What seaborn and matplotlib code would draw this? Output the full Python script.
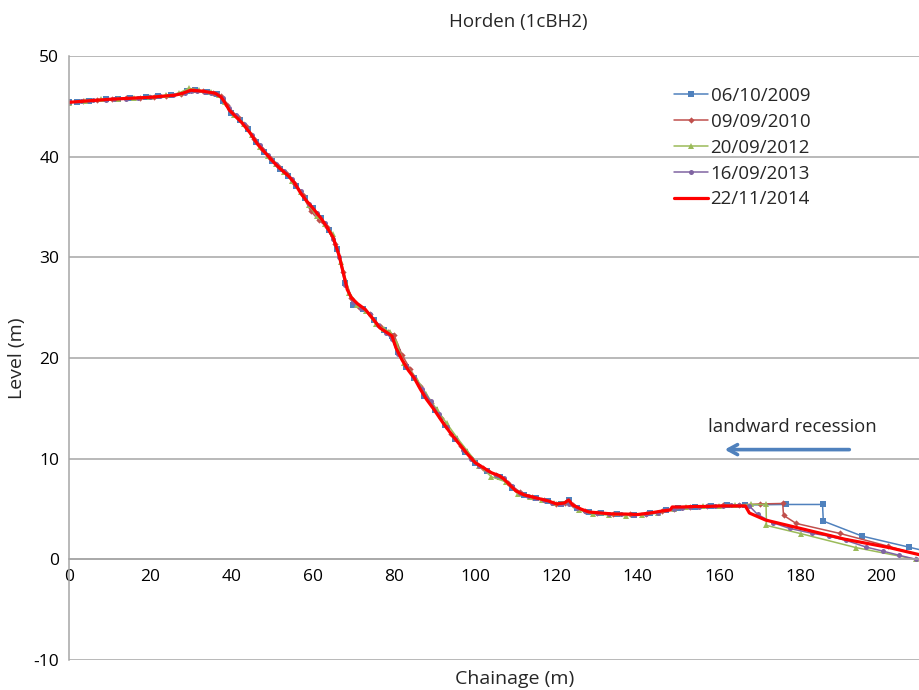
import matplotlib
matplotlib.use("Agg")
import matplotlib.pyplot as plt
import seaborn as sns
import pandas as pd

# ---- data ----
labels = ["06/10/2009", "09/09/2010", "20/09/2012", "16/09/2013", "22/11/2014"]

x09 = [0, 2, 5, 9, 12, 15, 19, 22, 25, 29,
       31, 34, 36.5, 38, 40, 42, 44, 46, 48, 50,
       52, 54, 56, 58, 60, 62, 64, 66, 68, 70,
       72.5, 75, 77.5, 79.5, 81, 83, 85, 87.5, 90, 92.5,
       95, 97.5, 100, 103, 106, 109, 112, 115, 118, 121,
       123, 125, 128, 131, 135, 139, 143, 147, 150, 154,
       158, 162, 166.5, 176.5, 185.5, 185.7, 195.3, 206.9, 210]
y09 = [45.4, 45.45, 45.55, 45.7, 45.75, 45.8, 45.9, 46.0, 46.1, 46.5,
       46.6, 46.45, 46.2, 45.5, 44.3, 43.6, 42.7, 41.5, 40.5, 39.6,
       38.8, 38.1, 37.1, 35.9, 34.9, 33.9, 32.7, 30.8, 27.5, 25.3,
       24.9, 23.8, 22.8, 22.2, 20.6, 19.1, 18.0, 16.2, 14.8, 13.3,
       12.0, 10.7, 9.6, 8.8, 8.2, 7.1, 6.4, 6.1, 5.8, 5.5,
       5.9, 5.1, 4.7, 4.6, 4.5, 4.45, 4.6, 4.9, 5.1, 5.2,
       5.3, 5.35, 5.4, 5.45, 5.45, 3.8, 2.3, 1.2, 0.9]

x10 = [0, 3.5, 7, 10.5, 14, 17.5, 21, 24, 27.5, 30.5,
       33, 35.5, 37.5, 39, 41.5, 43.5, 45.5, 47.5, 49.5, 51.5,
       53.5, 55.5, 57.5, 59.5, 61.5, 63.5, 65.5, 67.5, 69.5, 71.5,
       74, 76.5, 78.5, 80, 82, 84, 86.5, 89, 91.5, 94,
       96.5, 99, 102, 105, 108, 111, 114, 117, 120, 122,
       124, 127, 130, 134, 138, 142, 146, 149, 153, 157,
       161, 165, 170, 175.7, 175.9, 179, 189.7, 201.5, 210]
y10 = [45.4, 45.5, 45.65, 45.7, 45.8, 45.85, 45.95, 46.05, 46.2, 46.6,
       46.5, 46.35, 46.0, 45.1, 43.9, 43.0, 41.8, 40.8, 39.9, 39.1,
       38.4, 37.4, 36.2, 34.6, 33.7, 33.0, 31.3, 28.5, 26.0, 25.1,
       24.4, 23.2, 22.6, 22.3, 20.3, 18.9, 17.2, 15.5, 14.0, 12.5,
       11.3, 10.1, 9.1, 8.4, 7.6, 6.7, 6.2, 5.9, 5.5, 5.6,
       5.4, 4.8, 4.6, 4.5, 4.5, 4.5, 4.8, 5.0, 5.2, 5.3,
       5.35, 5.4, 5.5, 5.55, 4.37, 3.57, 2.58, 1.32, 0.35]

x12 = [0, 4, 8, 12, 16, 20, 24, 27, 29.5, 32,
       35, 37, 38.5, 40.5, 43, 45, 47, 49, 51, 53,
       55, 57, 59, 61, 63, 65, 67, 69, 71, 73,
       75.5, 77.5, 79, 80.5, 82.5, 85.5, 88, 90.5, 93, 95.5,
       98, 101, 104, 107.5, 110.5, 113.5, 116.5, 119.5, 122.5, 125.5,
       129, 133, 137, 141, 145, 149, 152, 156, 160, 164,
       168, 171.6, 171.7, 180.2, 193.8, 208.5]
y12 = [45.35, 45.55, 45.7, 45.75, 45.85, 45.95, 46.1, 46.3, 46.8, 46.6,
       46.4, 46.1, 45.4, 44.1, 43.2, 42.2, 41.0, 40.1, 39.3, 38.5,
       37.6, 36.5, 35.2, 34.1, 33.3, 32.3, 29.5, 26.5, 25.3, 24.7,
       23.4, 22.9, 22.6, 21.6, 19.5, 18.0, 16.4, 14.9, 13.5, 12.1,
       10.8, 9.3, 8.2, 7.7, 6.5, 6.2, 5.9, 5.6, 5.7, 4.9,
       4.5, 4.4, 4.35, 4.4, 4.6, 5.0, 5.2, 5.3, 5.3, 5.4,
       5.45, 5.45, 3.37, 2.55, 1.16, 0.0]

x13 = [0, 3, 6, 9, 11, 14, 17, 20, 22.5, 25.5,
       28.5, 30, 31.5, 33.5, 35, 36.5, 38, 39.5, 41, 43,
       45, 47, 49, 51, 53, 55, 57, 59, 61, 63,
       65, 66.5, 68, 70, 72, 74, 76, 78, 79.5, 81,
       83, 85, 87, 89, 91, 93, 95, 97, 99, 101,
       103, 105, 107, 109, 111, 113, 115, 117, 119, 121,
       123, 125, 127, 130, 133, 136, 139, 142, 145, 147,
       149, 151, 153, 155, 157, 159, 161, 163, 165, 167.5,
       169.5, 173.2, 177.4, 183, 187.2, 191.3, 196.2, 200.3, 204.4, 208.5]
y13 = [45.4, 45.5, 45.6, 45.65, 45.7, 45.75, 45.8, 45.9, 46.0, 46.1,
       46.3, 46.5, 46.5, 46.4, 46.35, 46.25, 45.8, 44.8, 44.1, 43.2,
       42.2, 41.2, 40.2, 39.3, 38.6, 37.8, 36.6, 35.3, 34.4, 33.4,
       31.8, 30.0, 27.3, 25.6, 25.0, 24.4, 23.3, 22.5, 21.9, 20.4,
       19.2, 18.1, 16.9, 15.7, 14.4, 13.1, 12.0, 10.9, 10.0, 9.3,
       8.9, 8.4, 8.1, 7.3, 6.6, 6.3, 6.1, 5.9, 5.6, 5.5,
       5.5, 5.1, 4.8, 4.6, 4.5, 4.5, 4.45, 4.5, 4.6, 4.9,
       5.0, 5.1, 5.15, 5.2, 5.25, 5.3, 5.3, 5.35, 5.4, 5.3,
       4.46, 3.65, 3.07, 2.58, 2.3, 1.88, 1.22, 0.82, 0.4, 0.0]

x14 = [0, 10, 20, 26, 28, 30, 33, 36, 37.5, 38.5,
       39.5, 41, 42.5, 44.5, 46.5, 48.5, 50.5, 52, 54, 55.5,
       57, 58.5, 60, 62, 63.5, 65, 66.5, 67.5, 68.5, 69.5,
       71, 73, 75, 76.5, 78, 79.5, 80.5, 82, 83.5, 85,
       86.5, 88, 90, 92, 94, 96, 98, 100, 102, 104,
       106, 107, 108, 110, 112, 114, 116, 118, 120, 122,
       123, 124, 126, 128, 131, 134, 137, 140, 143, 146,
       148, 148.5, 151, 154, 157, 160, 163, 166.5, 167.5, 171.5,
       181, 191, 202, 210]
y14 = [45.4, 45.7, 45.9, 46.1, 46.3, 46.6, 46.5, 46.3, 45.9, 45.3,
       44.6, 44.0, 43.4, 42.4, 41.2, 40.3, 39.4, 38.8, 38.1, 37.4,
       36.4, 35.6, 34.9, 33.9, 33.0, 32.0, 30.2, 28.5, 26.8, 26.0,
       25.4, 24.8, 23.8, 23.0, 22.6, 22.2, 21.0, 19.8, 18.8, 18.0,
       16.9, 15.9, 14.8, 13.6, 12.5, 11.5, 10.5, 9.6, 9.1, 8.6,
       8.3, 8.0, 7.6, 6.8, 6.4, 6.2, 6.0, 5.8, 5.5, 5.6,
       5.9, 5.4, 5.0, 4.7, 4.6, 4.5, 4.5, 4.45, 4.6, 4.8,
       4.9, 5.2, 5.2, 5.25, 5.25, 5.3, 5.3, 5.3, 4.6, 3.9,
       2.98, 2.0, 1.16, 0.4]

yticks = [-10, 0, 10, 20, 30, 40, 50]
xticks = [0, 20, 40, 60, 80, 100, 120, 140, 160, 180, 200]

# ---- styling ----
sns.set_theme(style="white")
plt.rcParams["font.family"] = ["Open Sans", "DejaVu Sans"]
GRID = "#A6A6A6"

fig = plt.figure(figsize=(9.2, 6.9), dpi=100)
ax = fig.add_axes([69 / 920, 1 - 660 / 690, 1 - 69 / 920, (660 - 56) / 690])

series = [
    (x09, y09, labels[0], "#4F81BD", "s", 4.2, 1.1),
    (x10, y10, labels[1], "#C0504D", "D", 3.2, 1.1),
    (x12, y12, labels[2], "#9BBB59", "^", 5.0, 1.1),
    (x13, y13, labels[3], "#8064A2", "o", 3.6, 1.1),
]
for xs, ys, lab, col, mk, ms, lw in series:
    df = pd.DataFrame({"x": xs, "y": ys})
    sns.lineplot(data=df, x="x", y="y", ax=ax, sort=False, estimator=None,
                 color=col, marker=mk, markersize=ms, markeredgewidth=0,
                 linewidth=lw, label=lab)
df14 = pd.DataFrame({"x": x14, "y": y14})
sns.lineplot(data=df14, x="x", y="y", ax=ax, sort=False, estimator=None,
             color="#FF0000", linewidth=2.3, label=labels[4])

ax.set_xlim(0, 209.5)
ax.set_ylim(-10, 50)
ax.set_xticks(xticks)
ax.set_yticks(yticks)
ax.set_xticklabels([str(v) for v in xticks])
ax.set_yticklabels([str(v) for v in yticks])
ax.tick_params(axis="both", length=0, labelsize=12.5, colors="#000000")
ax.tick_params(axis="x", pad=7)
ax.tick_params(axis="y", pad=7)

ax.grid(axis="y", color=GRID, linewidth=1.1)
ax.grid(axis="x", visible=False)
ax.set_axisbelow(True)
for s in ["top", "right"]:
    ax.spines[s].set_visible(False)
ax.spines["left"].set_color(GRID)
ax.spines["left"].set_linewidth(1.1)
ax.spines["bottom"].set_position(("data", 0))
ax.spines["bottom"].set_color(GRID)
ax.spines["bottom"].set_linewidth(1.1)

ax.set_xlabel("")
ax.set_ylabel("")
fig.text(515 / 920, 1 - 679 / 690, "Chainage (m)", ha="center", va="center", fontsize=14)
fig.text(17 / 920, 1 - 358 / 690, "Level (m)", ha="center", va="center", rotation=90, fontsize=14)
fig.text(518 / 920, 1 - 22 / 690, "Horden (1cBH2)", ha="center", va="center", fontsize=13.5)

# annotation
ax.annotate("", xy=(161.4, 10.9), xytext=(192.1, 10.9),
            arrowprops=dict(arrowstyle="->,head_length=0.55,head_width=0.3",
                            color="#4F81BD", lw=2.6, shrinkA=0, shrinkB=0))
ax.text(157.3, 13.1, "landward recession", ha="left", va="center", fontsize=13.3)

leg = ax.legend(loc="upper left", bbox_to_anchor=(674 / 920, 1 - 87 / 690),
                bbox_transform=fig.transFigure, frameon=False,
                handlelength=1.8, handletextpad=0.15, labelspacing=0.42,
                borderpad=0, borderaxespad=0,
                prop={"size": 13.5})

fig.savefig("out.png", dpi=100)
